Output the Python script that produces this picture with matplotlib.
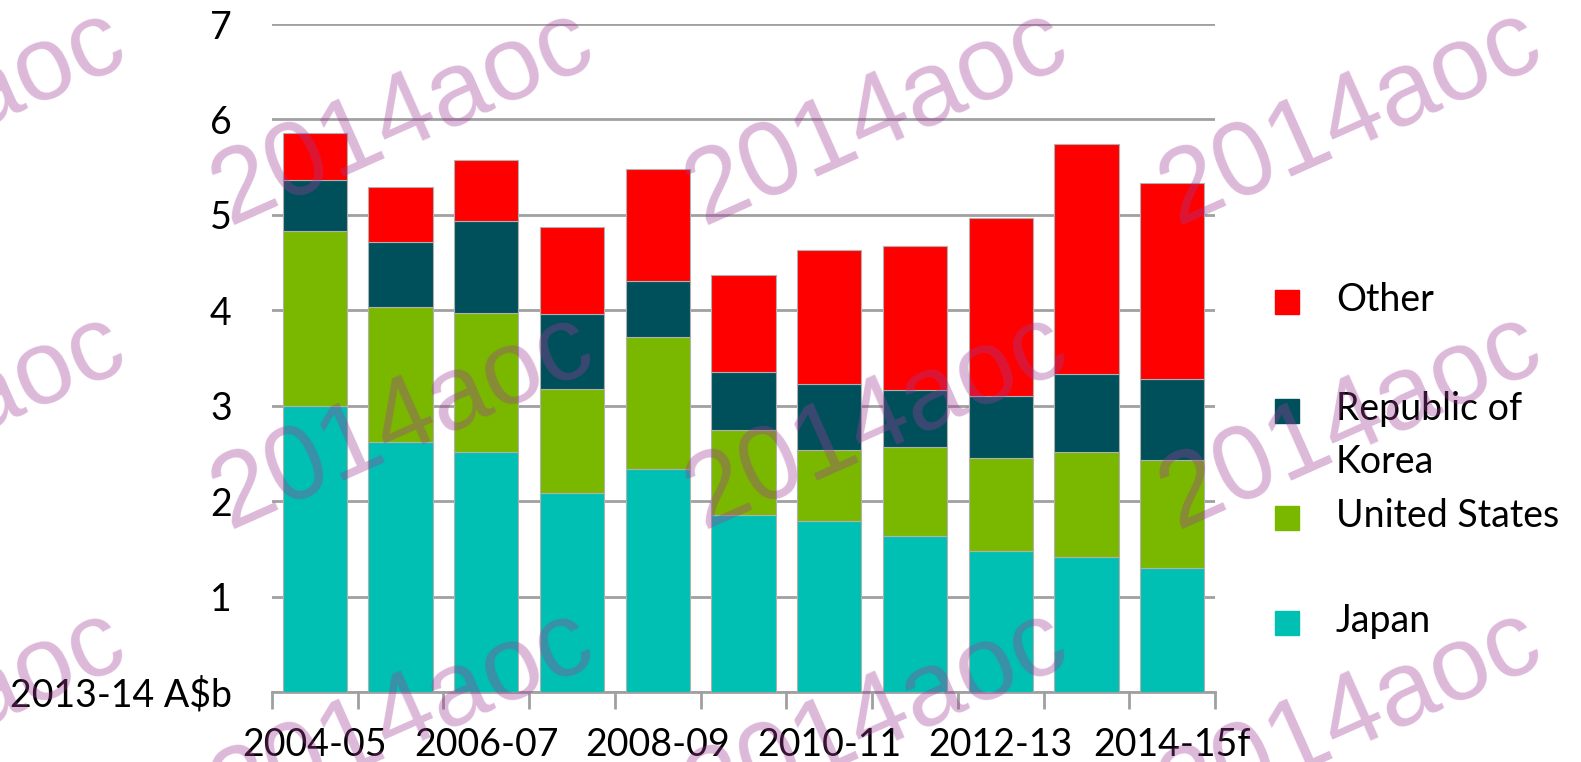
import matplotlib
matplotlib.use('Agg')
import matplotlib.pyplot as plt
import numpy as np
from matplotlib.patches import Rectangle

plt.rcParams['font.family'] = ['Lato', 'DejaVu Sans']

# Data (2013-14 A$b)
years = ['2004-05', '2005-06', '2006-07', '2007-08', '2008-09', '2009-10',
         '2010-11', '2011-12', '2012-13', '2013-14', '2014-15f']
japan = [3.00, 2.62, 2.51, 2.09, 2.34, 1.86, 1.79, 1.63, 1.48, 1.41, 1.30]
us_top = [4.83, 4.03, 3.97, 3.17, 3.72, 2.75, 2.54, 2.57, 2.45, 2.51, 2.43]
korea_top = [5.37, 4.72, 4.94, 3.96, 4.31, 3.35, 3.23, 3.16, 3.10, 3.33, 3.28]
other_top = [5.86, 5.29, 5.57, 4.87, 5.48, 4.37, 4.63, 4.67, 4.97, 5.74, 5.33]

united_states = np.array(us_top) - np.array(japan)
korea = np.array(korea_top) - np.array(us_top)
other = np.array(other_top) - np.array(korea_top)

series = [('Japan', japan, '#00BFB3'),
          ('United States', united_states, '#7AB800'),
          ('Republic of\nKorea', korea, '#00505B'),
          ('Other', other, '#FF0000')]

W, H = 1581, 762
fig = plt.figure(figsize=(W / 100, H / 100), dpi=100)
ax = fig.add_axes([272 / W, 1 - 692 / H, (1215 - 272) / W, (692 - 24) / H])

x = np.arange(len(years))
bottom = np.zeros(len(years))
for name, vals, col in series:
    ax.bar(x, vals, width=0.75, bottom=bottom, color=col,
           edgecolor='#B0B0B0', linewidth=0.8, zorder=3)
    bottom = bottom + np.array(vals)

ax.set_xlim(-0.5, len(years) - 0.5)
ax.set_ylim(0, 7)
ax.set_yticks(range(8))
ax.set_yticklabels(['2013-14 A$b'] + [str(i) for i in range(1, 8)])
ax.yaxis.grid(True, color='#A0A0A0', linewidth=2, zorder=0)
ax.tick_params(axis='y', length=0, pad=29, labelsize=27)

# category labels on every other bar, tick marks between categories
ax.set_xticks(x[::2])
ax.set_xticklabels(years[::2], fontsize=27)
ax.tick_params(axis='x', length=0, pad=25)
ax.set_xticks(np.arange(-0.5, len(years)), minor=True)
ax.tick_params(axis='x', which='minor', length=12, width=2, color='#A0A0A0')

for s in ['top', 'right', 'left']:
    ax.spines[s].set_visible(False)
ax.spines['bottom'].set_color('#A0A0A0')
ax.spines['bottom'].set_linewidth(2)

# legend (Excel style, right side)
legend_rows = [('Other', '#FF0000', 302),
               ('Republic of\nKorea', '#00505B', 411),
               ('United States', '#7AB800', 518),
               ('Japan', '#00BFB3', 623)]
for name, col, yp in legend_rows:
    fig.patches.append(Rectangle((1275 / W, 1 - (yp + 12) / H), 24 / W, 24 / H,
                                 transform=fig.transFigure, color=col))
    fig.text(1336 / W, 1 - (yp - 20) / H, name, fontsize=27, va='top',
             ha='left', linespacing=1.6)

# watermark
wm_cols = [-65, 403, 877, 1351]
wm_rows = [118, 422, 718]
for yc in wm_rows:
    for xc in wm_cols:
        fig.text(xc / W, 1 - yc / H, '2014aoc', family='Liberation Sans',
                 fontsize=76, color='#A03C96', alpha=0.36, rotation=24,
                 ha='center', va='center', rotation_mode='anchor', zorder=10)

fig.savefig('out.png', dpi=100)
